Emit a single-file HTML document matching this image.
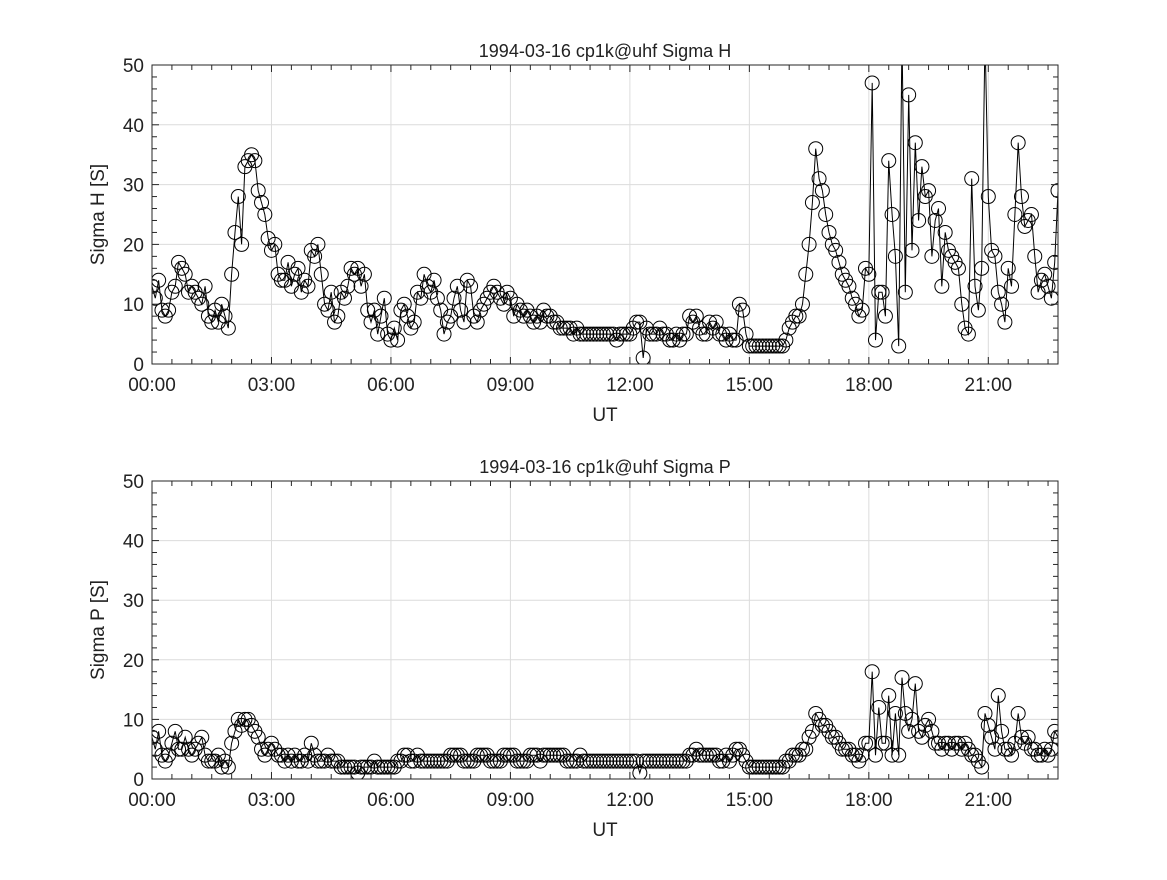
<!DOCTYPE html>
<html><head><meta charset="utf-8"><style>
body{margin:0;background:#fff}
svg text{font-family:"Liberation Sans","DejaVu Sans",sans-serif;fill:#222}
</style></head><body>
<svg id="fig" width="1167" height="875" xmlns="http://www.w3.org/2000/svg"></svg>
<script>
const xTickLabels=["00:00","03:00","06:00","09:00","12:00","15:00","18:00","21:00"];
const yTickLabels=["0","10","20","30","40","50"];
const sigmaH=[
13,11,14,9,8,9,12,13,17,16,15,12,
13,12,11,10,13,8,7,9,7,10,8,6,
15,22,28,20,33,34,35,34,29,27,25,21,
19,20,15,14,14,17,13,15,16,12,14,13,
19,18,20,15,10,9,12,7,8,12,11,13,
16,15,16,13,15,9,7,9,5,8,11,5,
4,6,4,9,10,8,6,7,12,11,15,13,
12,14,11,9,5,7,8,11,13,9,7,14,
13,8,7,9,10,11,12,13,12,11,10,12,
11,8,10,9,8,9,8,7,8,7,9,8,
8,7,7,6,6,6,6,5,6,5,5,5,
5,5,5,5,5,5,5,5,4,5,5,5,
5,6,7,7,1,6,5,5,5,6,5,5,
4,4,5,4,5,5,8,7,8,6,5,5,
7,6,7,5,5,4,5,4,4,10,9,5,
3,3,3,3,3,3,3,3,3,3,3,4,
6,7,8,8,10,15,20,27,36,31,29,25,
22,20,19,17,15,14,13,11,10,8,9,16,
15,47,4,12,12,8,34,25,18,3,55,12,
45,19,37,24,33,28,29,18,24,26,13,22,
19,18,17,16,10,6,5,31,13,9,16,55,
28,19,18,12,10,7,16,13,25,37,28,23,
24,25,18,12,14,15,13,11,17,29];
const sigmaP=[
7,5,8,4,3,4,6,8,5,5,7,5,
4,5,6,7,4,3,3,3,4,2,3,2,
6,8,10,9,10,10,9,8,7,5,4,5,
6,5,4,4,3,4,3,4,3,3,4,3,
6,4,3,3,3,4,3,3,3,2,2,2,
2,2,1,2,2,2,2,3,2,2,2,2,
2,2,3,3,4,4,3,3,4,3,3,3,
3,3,3,3,3,3,4,4,4,4,3,3,
3,3,4,4,4,4,3,3,3,3,4,4,
4,4,3,3,3,3,4,4,4,3,4,4,
4,4,4,4,4,3,3,3,3,4,3,3,
3,3,3,3,3,3,3,3,3,3,3,3,
3,3,3,1,3,3,3,3,3,3,3,3,
3,3,3,3,3,3,4,4,5,4,4,4,
4,4,4,3,3,4,3,4,5,5,4,3,
2,2,2,2,2,2,2,2,2,2,2,3,
3,4,4,4,5,5,7,8,11,10,9,9,
8,7,7,6,5,5,5,4,4,3,4,6,
6,18,4,12,6,6,14,4,11,4,17,11,
8,10,16,8,7,9,10,8,6,6,5,6,
6,5,6,6,5,6,5,4,4,3,2,11,
9,7,5,14,8,5,5,4,6,11,7,6,
7,5,5,4,4,5,4,5,8,7];
const stepMinutes=5;
const NS="http://www.w3.org/2000/svg";
const svg=document.getElementById('fig');
function mk(t,a,p){const e=document.createElementNS(NS,t);for(const k in a)e.setAttribute(k,a[k]);(p||svg).appendChild(e);return e;}
const X0=152,X1=1058,HMAX=22.75;
function xs(h){return X0+(h/HMAX)*(X1-X0);}
function drawPanel(top,bot,values,title,ylab,key){
  const g=mk('g',{});
  
  
  const ys=v=>bot-(v/50)*(bot-top);
  const yc=v=>ys(Math.min(v,50));
  // grid
  for(let i=0;i<xTickLabels.length;i++){const x=xs(i*3);
    const l=mk('line',{x1:x,x2:x,y1:top,y2:bot,stroke:'#dcdcdc','stroke-width':1},g);
    }
  for(let i=0;i<yTickLabels.length;i++){const y=ys(+yTickLabels[i]);
    const l=mk('line',{x1:X0,x2:X1,y1:y,y2:y,stroke:'#dcdcdc','stroke-width':1},g);
    }
  // series
  const clip=mk('clipPath',{id:'clip'+key},g);mk('rect',{x:X0,y:top,width:X1-X0,height:bot-top},clip);
  const sg=mk('g',{'clip-path':'url(#clip'+key+')'},g);
  
  const pts=values.map((v,i)=>xs(i*stepMinutes/60).toFixed(1)+','+ys(v).toFixed(1)).join(' ');
  const pl=mk('polyline',{points:pts,fill:'none',stroke:'#000','stroke-width':1},sg);
  
  values.forEach((v,i)=>{const c=mk('circle',{cx:xs(i*stepMinutes/60),cy:ys(v),r:7,fill:'none',stroke:'#000','stroke-width':1},sg);
    });
  // box
  const b=mk('rect',{x:X0,y:top,width:X1-X0,height:bot-top,fill:'none',stroke:'#262626','stroke-width':1},g);
  
  // minor ticks
  for(let m=0;m<=HMAX*2;m++){const x=xs(m/2);const len=(m%6===0)?7:5;
    mk('line',{x1:x,x2:x,y1:bot,y2:bot-len,stroke:'#262626'},g);mk('line',{x1:x,x2:x,y1:top,y2:top+len,stroke:'#262626'},g);}
  for(let v=0;v<=50;v+=2){const y=ys(v);const len=(v%10===0)?7:5;
    mk('line',{x1:X0,x2:X0+len,y1:y,y2:y,stroke:'#262626'},g);mk('line',{x1:X1,x2:X1-len,y1:y,y2:y,stroke:'#262626'},g);}
  // tick labels
  xTickLabels.forEach((t,i)=>{const e=mk('text',{x:xs(i*3),y:bot+27,'font-size':19,'text-anchor':'middle'},g);e.textContent=t;
    });
  yTickLabels.forEach(t=>{const e=mk('text',{x:X0-8,y:ys(+t)+7,'font-size':19,'text-anchor':'end'},g);e.textContent=t;
    });
  const xt=mk('text',{x:(X0+X1)/2,y:bot+57,'font-size':19,'text-anchor':'middle'},g);xt.textContent='UT';
  
  const yt=mk('text',{x:0,y:0,'font-size':19,'text-anchor':'middle',transform:`translate(104,${(top+bot)/2}) rotate(-90)`},g);yt.textContent=ylab;
  
  const tt=mk('text',{x:(X0+X1)/2,y:top-8,'font-size':18,'text-anchor':'middle'},g);tt.textContent=title;
  
}
drawPanel(65,364,sigmaH,'1994-03-16  cp1k@uhf Sigma H','Sigma H [S]','sigma-h');
drawPanel(481,779,sigmaP,'1994-03-16  cp1k@uhf Sigma P','Sigma P [S]','sigma-p');
</script>
</body></html>
